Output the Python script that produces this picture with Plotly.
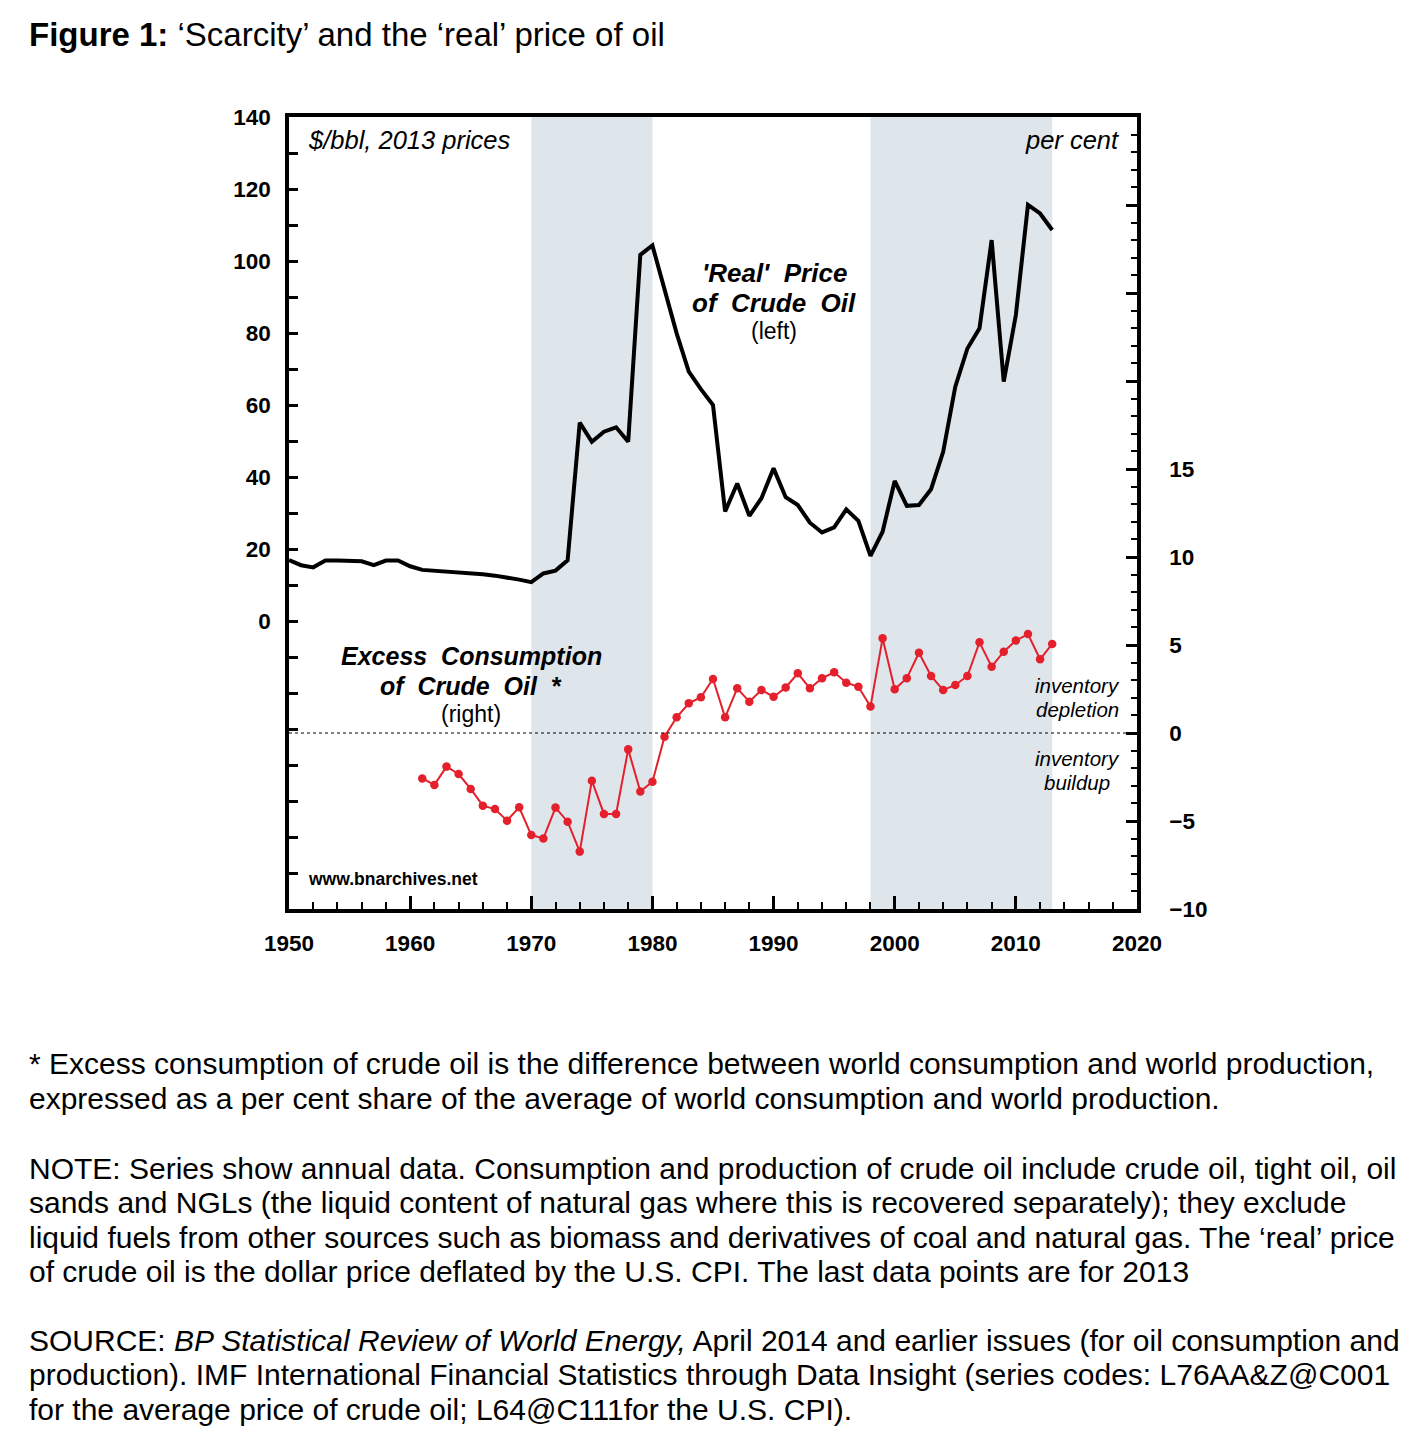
import plotly.graph_objects as go

# ---------------- data ----------------
price_years = list(range(1950, 2014))
real_price = [16.9, 15.5, 14.9, 16.8, 16.8, 16.8, 16.6, 15.5, 16.8, 16.8,
              15.2, 14.2, 14.0, 13.8, 13.5, 13.3, 13.0, 12.6, 12.1, 11.5,
              10.8, 13.2, 14.0, 16.9, 55.1, 49.8, 52.6, 53.8, 49.8, 101.7,
              104.3, 92.2, 79.9, 69.3, 64.4, 60.0, 30.4, 38.2, 29.2, 34.1,
              42.4, 34.4, 32.2, 27.3, 24.6, 26.0, 31.0, 27.8, 18.1, 24.8,
              38.9, 32.0, 32.2, 36.6, 47.0, 65.1, 75.7, 81.3, 105.8, 66.5,
              85.0, 115.6, 113.2, 108.6]

excess_years = list(range(1961, 2014))
excess_consumption = [-2.58, -2.95, -1.91, -2.33, -3.18, -4.13, -4.32, -4.98, -4.22,
                      -5.80, -5.99, -4.24, -5.04, -6.74, -2.71, -4.60, -4.60, -0.93, -3.33,
                      -2.77, -0.21, 0.89, 1.69, 2.03, 3.07, 0.89, 2.54, 1.78, 2.44,
                      2.06, 2.59, 3.39, 2.54, 3.11, 3.45, 2.86, 2.63, 1.50, 5.38,
                      2.48, 3.11, 4.56, 3.24, 2.44, 2.73, 3.24, 5.15, 3.77, 4.62,
                      5.25, 5.62, 4.19, 5.06]

shaded_periods = [(1970, 1980), (1998, 2013)]

left_tick_vals = list(range(-80, 141, 10))
left_tick_text = [str(v) if (v >= 0 and v % 20 == 0) else "" for v in left_tick_vals]
right_tick_vals = list(range(-10, 36, 5))
right_tick_text = [("\u2212" + str(-v)) if v < 0 else str(v) if v <= 15 else "" for v in right_tick_vals]
x_tick_vals = list(range(1950, 2021, 10))

FONT = "Liberation Sans, Arial, Helvetica, sans-serif"

# ---------------- geometry helpers (page pixels; browser body margin = 8px) ----------------
OFF = 8
FIG_W, FIG_H = 1428 - OFF, 1437 - 2 * OFF
PL, PR, PT, PB = 289, 1137, 117, 909
W, H = PR - PL, PB - PT


def px(x):
    return (x - PL) / W


def py(y):
    return (PB - y) / H


fig = go.Figure()

fig.add_trace(go.Scatter(
    x=price_years, y=real_price, mode="lines",
    line=dict(color="black", width=4), yaxis="y", showlegend=False,
    hoverinfo="x+y"))

fig.add_trace(go.Scatter(
    x=excess_years, y=excess_consumption, mode="lines+markers",
    line=dict(color="#e3202b", width=2),
    marker=dict(color="#e3202b", size=8.5), yaxis="y2", showlegend=False,
    hoverinfo="x+y"))

shapes = []
for a, b in shaded_periods:
    shapes.append(dict(type="rect", xref="x", yref="paper", x0=a, x1=b, y0=0, y1=1,
                       fillcolor="#dee6ec", line=dict(width=0), layer="below"))
shapes.append(dict(type="line", xref="paper", yref="y2", x0=0, x1=1, y0=0, y1=0,
                   line=dict(color="black", width=1, dash="dot"), layer="above"))

annotations = []


def ann(text, x, y, size, xanchor="center", color="black", bold=False, italic=False):
    t = text
    if bold:
        t = "<b>" + t + "</b>"
    if italic:
        t = "<i>" + t + "</i>"
    annotations.append(dict(text=t, x=px(x), y=py(y), xref="paper", yref="paper",
                            xanchor=xanchor, yanchor="middle", showarrow=False,
                            font=dict(family=FONT, size=size, color=color)))


# title
ann("<b>Figure 1:</b> \u2018Scarcity\u2019 and the \u2018real\u2019 price of oil", 27, 35, 33, xanchor="left")

# in-plot labels
ann("$/bbl, 2013 prices", 306, 140, 25.5, xanchor="left", italic=True)
ann("per cent", 1121, 140, 25.5, xanchor="right", italic=True)
ann("'Real'  Price", 774, 273, 26, bold=True, italic=True)
ann("of  Crude  Oil", 774, 303, 26, bold=True, italic=True)
ann("(left)", 774, 331, 23)
ann("Excess  Consumption", 471, 656, 25, bold=True, italic=True)
ann("of  Crude  Oil  *", 471, 686, 25, bold=True, italic=True)
ann("(right)", 471, 714, 23)
ann("inventory", 1077, 685, 20.5, italic=True)
ann("depletion", 1077, 709, 20.5, italic=True)
ann("inventory", 1077, 758, 20.5, italic=True)
ann("buildup", 1077, 782, 20.5, italic=True)
ann("www.bnarchives.net", 306, 879, 17.5, xanchor="left", bold=True)

# footnotes
foot_lines = [
    (1063, "* Excess consumption of crude oil is the difference between world consumption and world production,"),
    (1098, "expressed as a per cent share of the average of world consumption and world production."),
    (1168, "NOTE: Series show annual data. Consumption and production of crude oil include crude oil, tight oil, oil"),
    (1202, "sands and NGLs (the liquid content of natural gas where this is recovered separately); they exclude"),
    (1237, "liquid fuels from other sources such as biomass and derivatives of coal and natural gas. The \u2018real\u2019 price"),
    (1271, "of crude oil is the dollar price deflated by the U.S. CPI. The last data points are for 2013"),
    (1340, "SOURCE: <i>BP Statistical Review of World Energy,</i> April 2014 and earlier issues (for oil consumption and"),
    (1375, "production). IMF International Financial Statistics through Data Insight (series codes: L76AA&amp;Z@C001"),
    (1409, "for the average price of crude oil; L64@C111for the U.S. CPI)."),
]
for yy, txt in foot_lines:
    ann(txt, 27, yy, 30, xanchor="left")

boldtick = dict(family=FONT, size=22.5, color="black", weight="bold")

fig.update_layout(
    width=FIG_W, height=FIG_H,
    margin=dict(l=PL - OFF, r=FIG_W - (PR - OFF), t=PT - OFF, b=FIG_H - (PB - OFF), pad=0),
    paper_bgcolor="white", plot_bgcolor="white",
    showlegend=False,
    shapes=shapes, annotations=annotations,
    xaxis=dict(range=[1950, 2020], tickmode="array", tickvals=x_tick_vals,
               ticks="inside", ticklen=13, tickwidth=2.5, tickcolor="black",
               showline=True, linecolor="black", linewidth=3.5, mirror=True,
               showgrid=False, zeroline=False,
               tickfont=boldtick, ticklabelstandoff=11,
               minor=dict(dtick=2, tick0=1950, ticks="inside", ticklen=7, tickwidth=2,
                          tickcolor="black", showgrid=False)),
    yaxis=dict(range=[-80, 140], tickmode="array", tickvals=left_tick_vals,
               ticktext=left_tick_text, ticks="inside", ticklen=9, tickwidth=2.5,
               tickcolor="black", showline=True, linecolor="black", linewidth=3.5,
               showgrid=False, zeroline=False, tickfont=boldtick,
               ticklabelstandoff=10),
    yaxis2=dict(range=[-10, 35], overlaying="y", side="right", tickmode="array",
                tickvals=right_tick_vals, ticktext=right_tick_text,
                ticks="inside", ticklen=11, tickwidth=2.5, tickcolor="black",
                showline=True, linecolor="black", linewidth=3.5,
                showgrid=False, zeroline=False,
                tickfont=boldtick, ticklabelstandoff=24,
                minor=dict(dtick=1, tick0=0, ticks="inside", ticklen=6, tickwidth=2,
                           tickcolor="black", showgrid=False)),
)

fig.write_html("out.html")
